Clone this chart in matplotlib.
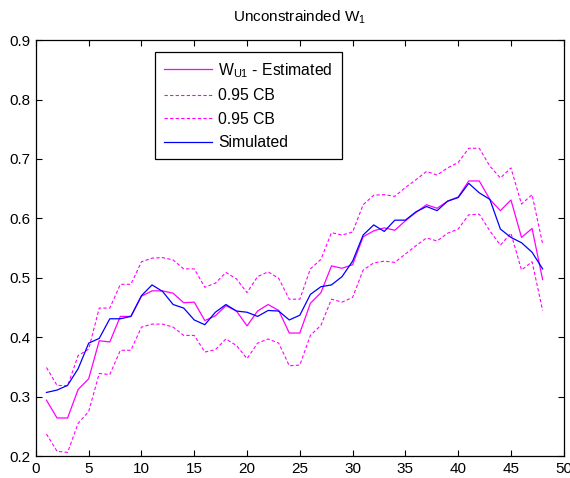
import numpy as np
import matplotlib
matplotlib.use('Agg')
from matplotlib import pyplot as plt

plt.rcParams['font.family'] = ['Liberation Sans', 'DejaVu Sans']
plt.rcParams['mathtext.fontset'] = 'custom'
plt.rcParams['mathtext.rm'] = 'Liberation Sans'
plt.rcParams['mathtext.it'] = 'Liberation Sans'

t = np.arange(1, 49)

# estimated weight and its 95% confidence band
w_est = [0.294, 0.264, 0.264, 0.312, 0.330, 0.394, 0.392, 0.435, 0.435, 0.469,
         0.478, 0.478, 0.474, 0.458, 0.459, 0.428, 0.436, 0.453, 0.444, 0.419,
         0.444, 0.455, 0.445, 0.407, 0.407, 0.457, 0.475, 0.520, 0.516, 0.522,
         0.569, 0.579, 0.584, 0.580, 0.596, 0.610, 0.623, 0.617, 0.629, 0.636,
         0.663, 0.663, 0.632, 0.613, 0.631, 0.568, 0.583, 0.497]
cb_up = [0.349, 0.319, 0.318, 0.369, 0.380, 0.449, 0.449, 0.489, 0.489, 0.527,
         0.533, 0.534, 0.530, 0.515, 0.515, 0.484, 0.491, 0.509, 0.498, 0.475,
         0.502, 0.510, 0.499, 0.464, 0.464, 0.515, 0.531, 0.576, 0.572, 0.577,
         0.623, 0.639, 0.640, 0.637, 0.652, 0.665, 0.679, 0.673, 0.685, 0.694,
         0.718, 0.718, 0.688, 0.668, 0.685, 0.624, 0.640, 0.557]
cb_lo = [0.237, 0.208, 0.206, 0.255, 0.275, 0.339, 0.337, 0.378, 0.378, 0.417,
         0.422, 0.422, 0.417, 0.403, 0.403, 0.375, 0.379, 0.397, 0.386, 0.364,
         0.390, 0.397, 0.390, 0.352, 0.353, 0.403, 0.420, 0.464, 0.459, 0.467,
         0.513, 0.525, 0.528, 0.526, 0.540, 0.554, 0.567, 0.562, 0.575, 0.582,
         0.606, 0.607, 0.579, 0.555, 0.575, 0.513, 0.527, 0.445]
# simulated (true) weight
w_sim = [0.307, 0.311, 0.319, 0.347, 0.390, 0.398, 0.431, 0.431, 0.435, 0.470,
         0.488, 0.477, 0.455, 0.449, 0.429, 0.421, 0.442, 0.455, 0.444, 0.442,
         0.435, 0.445, 0.444, 0.429, 0.437, 0.472, 0.485, 0.488, 0.502, 0.528,
         0.572, 0.589, 0.578, 0.597, 0.597, 0.611, 0.620, 0.613, 0.629, 0.635,
         0.659, 0.643, 0.632, 0.582, 0.568, 0.559, 0.543, 0.515]

fig = plt.figure(figsize=(5.7, 4.78), dpi=100)
ax = fig.add_axes([0.063, 0.046, 0.926, 0.870])

ax.plot(t, w_est, color='#ff00ff', lw=0.9, label='W$_{\\mathrm{U1}}$ - Estimated')
ax.plot(t, cb_up, color='#ff00ff', lw=0.8, dashes=(3, 2), label='0.95 CB')
ax.plot(t, cb_lo, color='#ff00ff', lw=0.8, dashes=(3, 2), label='0.95 CB')
ax.plot(t, w_sim, color='#0000ff', lw=0.9, label='Simulated')

ax.set_xlim(0, 50)
ax.set_ylim(0.2, 0.9)
ax.set_xticks(np.arange(0, 51, 5))
ax.set_yticks(np.arange(0.2, 0.91, 0.1))
ax.set_yticklabels(['0.2', '0.3', '0.4', '0.5', '0.6', '0.7', '0.8', '0.9'])
ax.tick_params(direction='in', top=True, right=True, length=4, width=0.8,
               labelsize=11, pad=4)
for s in ax.spines.values():
    s.set_linewidth(0.9)

ax.set_title('Unconstrainded W$_1$', fontsize=11, pad=13)

leg = ax.legend(loc='upper left', bbox_to_anchor=(0.2254, 0.971), fontsize=11.3,
                handlelength=3.1, handletextpad=0.4, fancybox=False,
                framealpha=1, edgecolor='black', borderpad=0.55,
                labelspacing=0.55, borderaxespad=0)
leg.get_frame().set_linewidth(0.9)

fig.savefig('out.png', dpi=100)
